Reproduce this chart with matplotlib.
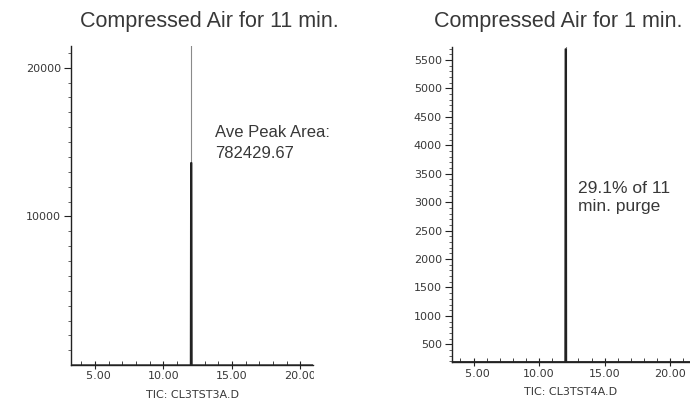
import matplotlib.pyplot as plt
from matplotlib.ticker import FixedLocator, MultipleLocator
from matplotlib.patches import Rectangle

# Retention time (min) and total ion count for the two purge runs
rt_11min = [3.25, 11.99, 12.01, 12.03, 12.05, 12.07, 20.92]
tic_11min = [0, 0, 13600, 13600, 13600, 0, 0]
rt_1min = [3.33, 11.99, 12.01, 12.03, 12.05, 12.07, 21.51]
tic_1min = [190, 190, 5690, 5690, 5690, 190, 190]
peak_rt = 12.03

titles = ['Compressed Air for 11 min.', 'Compressed Air for 1 min.']
file_labels = ['TIC: CL3TST3A.D', 'TIC: CL3TST4A.D']
notes = ['Ave Peak Area:\n782429.67', '29.1% of 11\nmin. purge']

x_ticks = [5, 10, 15, 20]
x_ticklabels = ['\u20075.00', '10.00', '15.00', '20.00']
y_ticks_11 = [10000, 20000]
y_ticks_1 = [500, 1000, 1500, 2000, 2500, 3000, 3500, 4000, 4500, 5000, 5500]

W, H = 690, 401
fig = plt.figure(figsize=(W / 100, H / 100), dpi=100)
fig.patch.set_facecolor('white')

ink = '#222222'
txt = '#383838'


def px(x0, y_top, x1, y_bot):
    return [x0 / W, (H - y_bot) / H, (x1 - x0) / W, (y_bot - y_top) / H]


ax1 = fig.add_axes(px(71, 46, 313, 364.5))
ax2 = fig.add_axes(px(451.7, 46.7, 690, 362))

panels = [
    (ax1, rt_11min, tic_11min, (3.25, 20.92), (50, 21460), y_ticks_11, 1000),
    (ax2, rt_1min, tic_1min, (3.33, 21.51), (190, 5733), y_ticks_1, 100),
]

for ax, rt, tic, xl, yl, yt, yminor in panels:
    # thin marker line at the peak, then the trace itself
    ax.axvline(peak_rt, color='#8a8a8a', lw=0.8, zorder=1)
    ax.plot(rt, tic, color=ink, lw=1.3, zorder=2)
    ax.set_xlim(*xl)
    ax.set_ylim(*yl)
    for s in ['top', 'right']:
        ax.spines[s].set_visible(False)
    for s in ['left', 'bottom']:
        ax.spines[s].set_color(ink)
        ax.spines[s].set_linewidth(1.0)
    ax.xaxis.set_major_locator(FixedLocator(x_ticks))
    ax.set_xticklabels(x_ticklabels)
    ax.xaxis.set_minor_locator(MultipleLocator(1))
    ax.yaxis.set_major_locator(FixedLocator(yt))
    ax.set_yticklabels([str(v) for v in yt])
    ax.yaxis.set_minor_locator(MultipleLocator(yminor))
    ax.tick_params(axis='x', which='major', direction='inout', length=6, width=0.8,
                   color=ink, labelsize=8, labelcolor=txt, pad=2)
    ax.tick_params(axis='x', which='minor', direction='in', length=3, width=0.6, color=ink)
    ax.tick_params(axis='y', which='major', direction='out', length=5, width=0.8,
                   color=ink, labelsize=8, labelcolor=txt, pad=2)
    ax.tick_params(axis='y', which='minor', direction='out', length=2, width=0.5, color=ink)
    for lbl in ax.get_xticklabels() + ax.get_yticklabels():
        lbl.set_family('DejaVu Sans')

ax1.set_xlabel(file_labels[0], fontsize=8, color=txt, labelpad=6)
ax2.set_xlabel(file_labels[1], fontsize=8, color=txt, labelpad=6)

# titles and notes
fig.text(209.5 / W, 1 - 27 / H, titles[0], ha='center', va='baseline',
         fontsize=15.5, family='Liberation Sans', color=txt)
fig.text(558 / W, 1 - 27 / H, titles[1], ha='center', va='baseline',
         fontsize=15.5, family='Liberation Sans', color=txt)
fig.text(215 / W, 1 - 125 / H, notes[0], ha='left', va='top',
         fontsize=12, family='Liberation Sans', color=txt, linespacing=1.5)
fig.text(578 / W, 1 - 181 / H, notes[1], ha='left', va='top',
         fontsize=12.5, family='Liberation Sans', color=txt, linespacing=1.25)

# the left panel ends where its last tick label is cut off
fig.add_artist(Rectangle((313.5 / W, (H - 388) / H), 80 / W, 22 / H,
                         transform=fig.transFigure, facecolor='white',
                         edgecolor='none', zorder=5))

fig.savefig('out.png', dpi=100, facecolor='white')
